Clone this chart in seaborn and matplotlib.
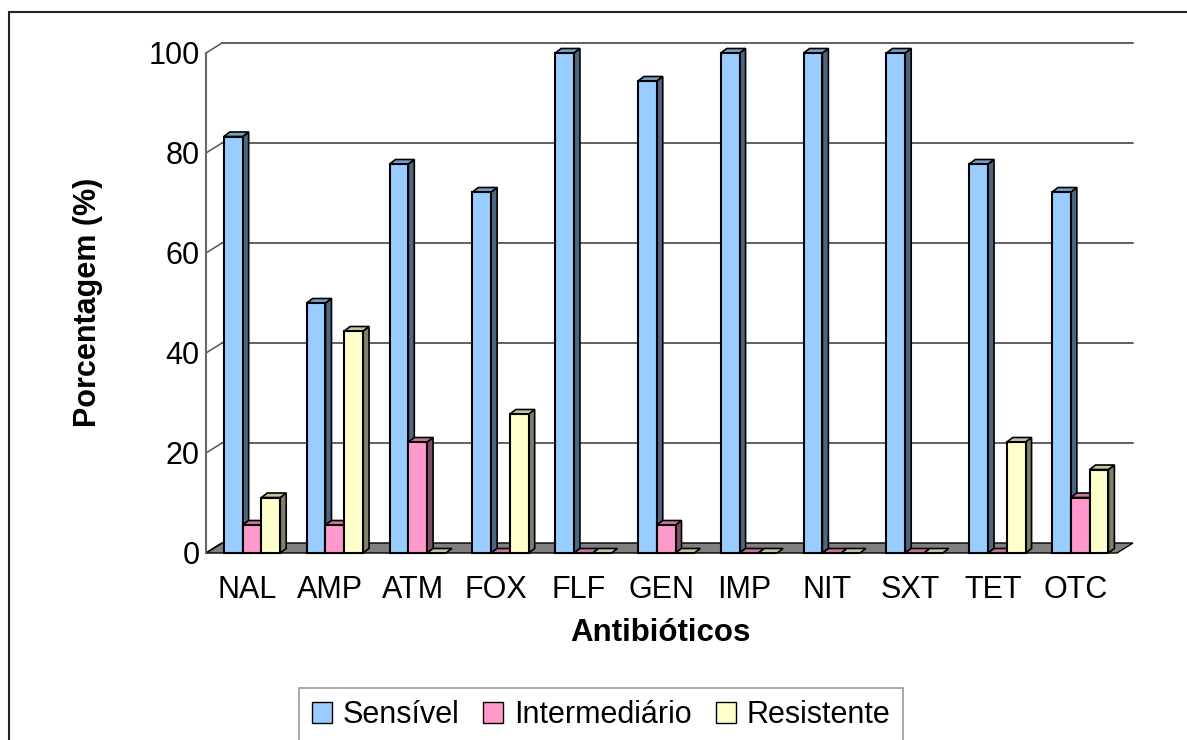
import numpy as np
import pandas as pd
import seaborn as sns
import matplotlib.pyplot as plt
from matplotlib.patches import Polygon, Patch, Rectangle
from matplotlib.lines import Line2D
from matplotlib.transforms import IdentityTransform

# Data (percent of isolates)
antibioticos = ["NAL", "AMP", "ATM", "FOX", "FLF", "GEN", "IMP", "NIT", "SXT", "TET", "OTC"]
categorias = ["Sensível", "Intermediário", "Resistente"]
sensivel = [83.3, 50.0, 77.8, 72.2, 100.0, 94.4, 100.0, 100.0, 100.0, 77.8, 72.2]
intermediario = [5.6, 5.6, 22.2, 0.0, 0.0, 5.6, 0.0, 0.0, 0.0, 0.0, 11.1]
resistente = [11.1, 44.4, 0.0, 27.8, 0.0, 0.0, 0.0, 0.0, 0.0, 22.2, 16.7]
cores = ["#99CCFF", "#FF99CC", "#FFFFCC"]

sns.set_style("white")
plt.rcParams["font.family"] = ["Liberation Sans", "DejaVu Sans"]
plt.rcParams["text.color"] = "black"
plt.rcParams["xtick.color"] = "black"
plt.rcParams["ytick.color"] = "black"
plt.rcParams["axes.labelcolor"] = "black"

df = pd.DataFrame({
    "antibiotico": antibioticos * 3,
    "categoria": [c for c in categorias for _ in antibioticos],
    "valor": sensivel + intermediario + resistente,
})

W, H = 1187, 740
fig = plt.figure(figsize=(W / 100, H / 100), dpi=100)
# front plane of the pseudo-3D chart, in pixels
x0, x1, y0, y1 = 206, 1117, 553, 53
ax = fig.add_axes([x0 / W, 1 - y0 / H, (x1 - x0) / W, (y0 - y1) / H])
ax.patch.set_alpha(0)

sns.barplot(data=df, x="antibiotico", y="valor", hue="categoria",
            order=antibioticos, hue_order=categorias, palette=cores,
            saturation=1, width=0.68, edgecolor="black", linewidth=1.5,
            errorbar=None, legend=False, ax=ax)
ax.set_xlim(-0.5, len(antibioticos) - 0.5)
ax.set_ylim(0, 100)
ax.set_yticks(range(0, 101, 20))
ax.set_xlabel("")
ax.set_ylabel("")

for s in ["top", "right", "bottom"]:
    ax.spines[s].set_visible(False)
ax.spines["left"].set_color("#666666")
ax.spines["left"].set_linewidth(1.5)
ax.tick_params(axis="y", length=3, width=1, color="#444444", labelcolor="black", pad=1.5, labelsize=22)
ax.tick_params(axis="x", which="major", length=0, pad=16, labelcolor="black", labelsize=22)
ax.set_xticks(np.arange(-0.5, len(antibioticos)), minor=True)
ax.tick_params(axis="x", which="minor", length=7, width=1, color="#444444")

# depth offsets in pixels
BX, BY = 16, 10   # back wall
DX, DY = 6, 4.5   # bar depth
ident = IdentityTransform()


def px(x, y):
    return ax.transData.transform((x, y))


# floor
a, b = px(-0.5, 0), px(len(antibioticos) - 0.5, 0)
floor = Polygon([a, b, b + (BX, BY), a + (BX, BY)], closed=True,
                facecolor="#808080", edgecolor="black", lw=1,
                transform=ident, clip_on=False, zorder=1.5)
ax.add_patch(floor)

# back wall gridlines + side wall connectors
for v in range(20, 101, 20):
    p, q = px(-0.5, v), px(len(antibioticos) - 0.5, v)
    ax.add_line(Line2D([p[0] + BX, q[0] + BX], [p[1] + BY, q[1] + BY],
                       color="#555555", lw=1.3, transform=ident, clip_on=False, zorder=1))
    ax.add_line(Line2D([p[0], p[0] + BX], [p[1], p[1] + BY],
                       color="#555555", lw=1.1, transform=ident, clip_on=False, zorder=1))
p0 = px(-0.5, 0)
ax.add_line(Line2D([p0[0], p0[0] + BX], [p0[1], p0[1] + BY],
                   color="black", lw=1.1, transform=ident, clip_on=False, zorder=1.6))

# side and top faces for the seaborn bars
bars = [p for p in ax.patches if p is not floor]
for p in bars:
    p.set_x(p.get_x() + 0.056)
order = sorted(range(len(bars)), key=lambda i: bars[i].get_x())
for rank, i in enumerate(order):
    p = bars[i]
    x, w, h = p.get_x(), p.get_width(), p.get_height()
    rgb = np.array(p.get_facecolor()[:3])
    tl, tr, br = px(x, h), px(x + w, h), px(x + w, 0)
    d = np.array([DX, DY])
    z = 3 + rank * 0.01
    if h > 0:
        ax.add_patch(Polygon([br, tr, tr + d, br + d], closed=True,
                             facecolor=rgb * 0.5, edgecolor="black", lw=1.2,
                             transform=ident, clip_on=False, zorder=z))
    ax.add_patch(Polygon([tl, tr, tr + d, tl + d], closed=True,
                         facecolor=rgb * 0.78, edgecolor="black", lw=1.2,
                         transform=ident, clip_on=False, zorder=z))
    p.set_zorder(z + 0.005)
    p.set_clip_on(False)

# axis titles
fig.text(88 / W, 1 - 302 / H, "Porcentagem (%)", rotation=90, ha="center", va="center",
         fontsize=22, fontweight="bold", color="black")
fig.text(660 / W, 1 - 633 / H, "Antibióticos", ha="center", va="center",
         fontsize=22.5, fontweight="bold", color="black")

# legend
handles = [Patch(facecolor=c, edgecolor="black", lw=1) for c in cores]
leg = fig.legend(handles, categorias, loc="upper center", bbox_to_anchor=(601 / W, 1 - 688 / H),
                 ncol=3, frameon=True, fancybox=False, edgecolor="#808080", fontsize=22,
                 handlelength=0.65, handleheight=0.65, handletextpad=0.35,
                 columnspacing=0.8, borderpad=0.4, borderaxespad=0)
leg.get_frame().set_linewidth(1.2)
for t in leg.get_texts():
    t.set_color("black")

# outer chart border
fig.add_artist(Rectangle((9 / W, -0.1), 1.2, 1 - 12 / H + 0.1, transform=fig.transFigure,
                         fill=False, edgecolor="#222222", lw=1.5))

fig.savefig("out.png", dpi=100)
